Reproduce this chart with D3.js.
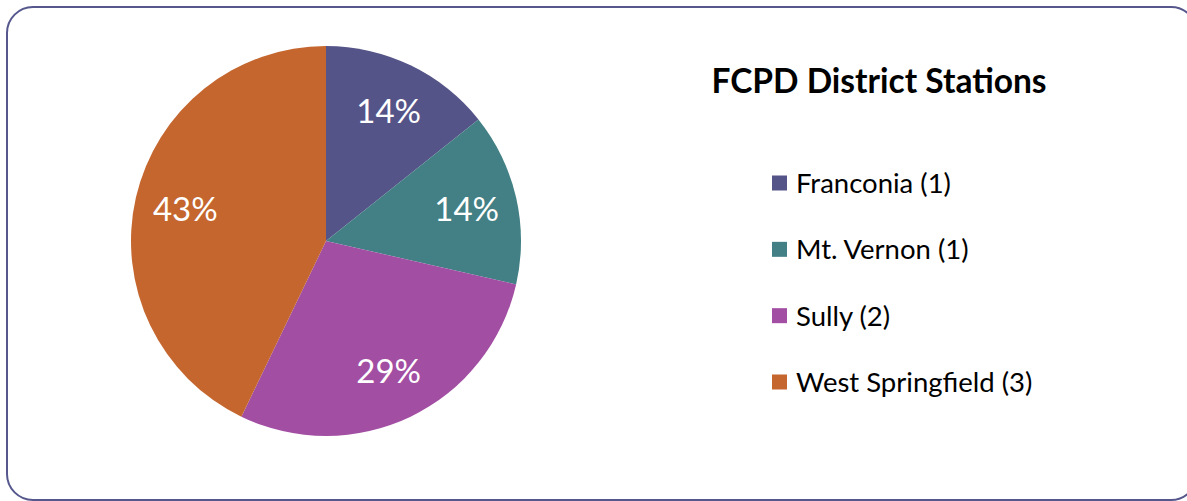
<!DOCTYPE html>
<html>
<head>
<meta charset="utf-8">
<script src="https://cdn.jsdelivr.net/npm/d3@7"></script>
<style>
  body { margin: 0; background: #fff; }
  svg { display: block; font-family: Lato, "Open Sans", sans-serif; }
</style>
</head>
<body>
<div id="chart"></div>
<script>
const stations = ["Franconia", "Mt. Vernon", "Sully", "West Springfield"];
const counts = [1, 1, 2, 3];
const colors = ["#555488", "#428085", "#a24ea3", "#c4662e"];
const title = "FCPD District Stations";

const width = 1187;
const height = 501;

const svg = d3.select("#chart")
  .append("svg")
  .attr("width", width)
  .attr("height", height);

// outer rounded frame
svg.append("rect")
  .attr("x", 7)
  .attr("y", 7)
  .attr("width", 1190)
  .attr("height", 493)
  .attr("rx", 26)
  .attr("fill", "#fff")
  .attr("stroke", "#55578d")
  .attr("stroke-width", 2);

const data = stations.map((s, i) => ({ name: s, value: counts[i], color: colors[i] }));
const total = d3.sum(counts);

const radius = 195;
const pie = d3.pie().value(d => d.value).sort(null);
const arc = d3.arc().innerRadius(0).outerRadius(radius);
const labelArc = d3.arc().innerRadius(radius * 0.74).outerRadius(radius * 0.74);

const g = svg.append("g").attr("transform", "translate(326,241)");

const arcs = pie(data);

g.selectAll("path")
  .data(arcs)
  .enter()
  .append("path")
  .attr("d", arc)
  .attr("fill", d => d.data.color);

g.selectAll("text")
  .data(arcs)
  .enter()
  .append("text")
  .attr("transform", d => `translate(${labelArc.centroid(d)})`)
  .attr("text-anchor", "middle")
  .attr("dy", "0.36em")
  .attr("fill", "#fff")
  .style("font-size", "33px")
  .text(d => d3.format(".0%")(d.data.value / total));

// title
svg.append("text")
  .attr("x", 879)
  .attr("y", 93)
  .attr("text-anchor", "middle")
  .style("font-size", "33.5px")
  .style("font-weight", "bold")
  .text(title);

// legend
const legend = svg.append("g").attr("transform", "translate(772,0)");
const y = d3.scalePoint().domain(stations).range([183, 382]);

const item = legend.selectAll("g")
  .data(data)
  .enter()
  .append("g")
  .attr("transform", d => `translate(0,${y(d.name)})`);

item.append("rect")
  .attr("x", 0)
  .attr("y", -7.5)
  .attr("width", 15)
  .attr("height", 15)
  .attr("fill", d => d.color);

item.append("text")
  .attr("x", 24)
  .attr("dy", "0.36em")
  .style("font-size", "27.5px")
  .attr("fill", "#000")
  .text(d => `${d.name} (${d.value})`);
</script>
</body>
</html>
